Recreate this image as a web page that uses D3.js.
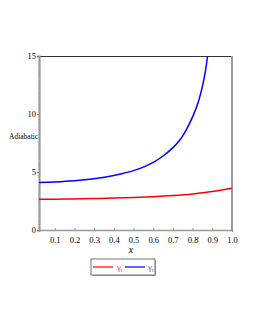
<!DOCTYPE html>
<html>
<head>
<meta charset="utf-8">
<script src="https://cdn.jsdelivr.net/npm/d3@7"></script>
<style>
  body { margin: 0; background: #fff; }
  svg text { font-family: "Liberation Serif", "DejaVu Serif", serif; }
</style>
</head>
<body>
<div id="chart"></div>
<script>
// values
const xTicks = [0.1, 0.2, 0.3, 0.4, 0.5, 0.6, 0.7, 0.8, 0.9, 1.0];
const yTicks = [0, 5, 10, 15];

const gammaRX = [0.02, 0.1, 0.2, 0.3, 0.4, 0.5, 0.6, 0.7, 0.8, 0.9, 1.0];
const gammaRY = [2.65, 2.66, 2.68, 2.71, 2.75, 2.8, 2.87, 2.97, 3.11, 3.31, 3.6];

const gammaTX = [0.02, 0.1, 0.2, 0.3, 0.4, 0.45, 0.5, 0.55, 0.6, 0.65, 0.7, 0.73, 0.76, 0.8, 0.83, 0.85, 0.865, 0.876];
const gammaTY = [4.1, 4.14, 4.24, 4.42, 4.7, 4.9, 5.12, 5.42, 5.83, 6.38, 7.1, 7.65, 8.4, 9.75, 11.1, 12.4, 13.7, 15.0];

const margin = {left: 39, top: 56, right: 23, bottom: 100};
const width = 255, height = 330;
const w = width - margin.left - margin.right;
const h = height - margin.top - margin.bottom;

const svg = d3.select('#chart')
  .append('svg')
  .attr('width', width)
  .attr('height', height);

const g = svg.append('g')
  .attr('transform', 'translate(' + margin.left + ',' + margin.top + ')');

const x = d3.scaleLinear().domain([0.02, 1.0]).range([0, w]);
const y = d3.scaleLinear().domain([0, 15]).range([h, 0]);

// frame: top dark, others grey
g.append('line').attr('x1', 0).attr('x2', w).attr('y1', 0.5).attr('y2', 0.5)
  .attr('stroke', '#333').attr('stroke-width', 1);
g.append('line').attr('x1', w).attr('x2', w).attr('y1', 0).attr('y2', h)
  .attr('stroke', '#999').attr('stroke-width', 2);

// x axis
const xAxis = g.append('g')
  .attr('transform', 'translate(0,' + h + ')')
  .call(d3.axisBottom(x).tickValues(xTicks).tickFormat(d3.format('.1f')).tickSize(2));
xAxis.select('.domain').attr('stroke', '#999').attr('stroke-width', 1.5);
xAxis.selectAll('.tick line').attr('stroke', '#999').attr('transform', 'translate(0,-2)');
xAxis.selectAll('text').attr('font-size', 8.5).attr('fill', '#000').attr('dy', '0.9em')
  .attr('font-family', '"Liberation Serif", serif');

// y axis
const yAxis = g.append('g')
  .call(d3.axisLeft(y).tickValues(yTicks).tickSize(2));
yAxis.select('.domain').attr('stroke', '#999').attr('stroke-width', 2.2);
yAxis.selectAll('.tick line').attr('stroke', '#777');
yAxis.selectAll('text').attr('font-size', 8.5).attr('fill', '#000').attr('x', -3)
  .attr('font-family', '"Liberation Serif", serif');

// minor ticks on y
g.append('g').selectAll('line')
  .data(d3.range(1, 15).filter(v => v % 5 !== 0))
  .enter().append('line')
  .attr('x1', 0).attr('x2', 2)
  .attr('y1', d => y(d)).attr('y2', d => y(d))
  .attr('stroke', '#bbb').attr('stroke-width', 0.6);

// axis titles
svg.append('text')
  .attr('x', 9).attr('y', 139)
  .attr('font-size', 7.5)
  .text('Adiabatic');
svg.append('text')
  .attr('x', 131).attr('y', 253)
  .attr('text-anchor', 'middle')
  .attr('font-size', 10)
  .attr('font-style', 'italic')
  .text('x');

// curves
const line = d3.line()
  .x(d => x(d[0]))
  .y(d => y(d[1]))
  .curve(d3.curveCatmullRom.alpha(0.5));

g.append('path')
  .datum(d3.zip(gammaRX, gammaRY))
  .attr('d', line)
  .attr('fill', 'none')
  .attr('stroke', '#ff0000')
  .attr('stroke-width', 1.5);

g.append('path')
  .datum(d3.zip(gammaTX, gammaTY))
  .attr('d', line)
  .attr('fill', 'none')
  .attr('stroke', '#0000ff')
  .attr('stroke-width', 1.5);

// legend
const lg = svg.append('g').attr('transform', 'translate(91,259)');
lg.append('rect').attr('x', 1).attr('y', 1).attr('width', 64).attr('height', 16)
  .attr('fill', '#aaa');
lg.append('rect').attr('x', 0).attr('y', 0).attr('width', 64).attr('height', 16)
  .attr('fill', '#fff').attr('stroke', '#555').attr('stroke-width', 0.8);

lg.append('line').attr('x1', 2).attr('x2', 22).attr('y1', 8).attr('y2', 8)
  .attr('stroke', '#ff0000').attr('stroke-width', 1.2);
const tr = lg.append('text').attr('x', 26).attr('y', 11).attr('font-size', 9).attr('fill', '#ff3030');
tr.append('tspan').text('γ');
tr.append('tspan').attr('font-size', 6).attr('dy', 2).text('r');

lg.append('line').attr('x1', 34).attr('x2', 54).attr('y1', 8).attr('y2', 8)
  .attr('stroke', '#0000ff').attr('stroke-width', 1.2);
const tt = lg.append('text').attr('x', 57).attr('y', 11).attr('font-size', 9).attr('fill', '#5050c0');
tt.append('tspan').text('γ');
tt.append('tspan').attr('font-size', 6).attr('dy', 2).text('t');
</script>
</body>
</html>
